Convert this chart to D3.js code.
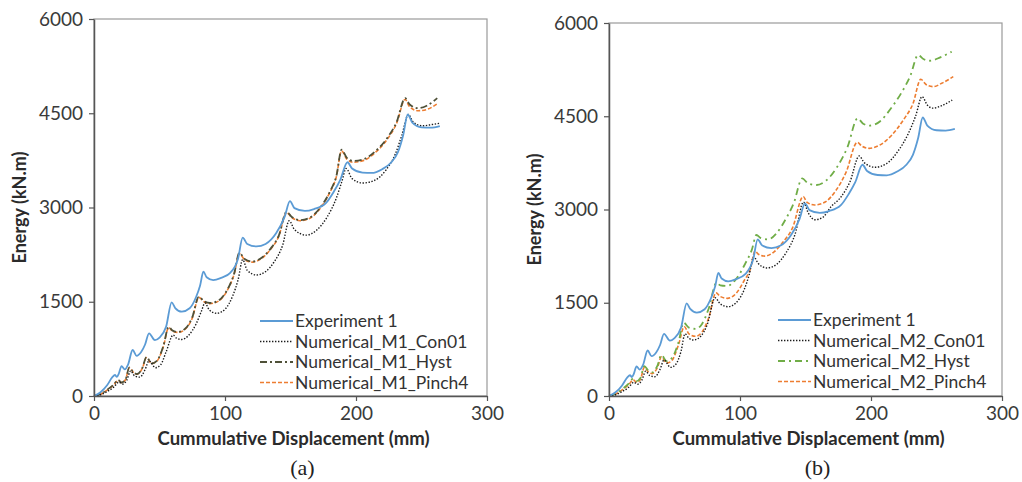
<!DOCTYPE html>
<html>
  <head>
    <meta charset="utf-8">
    <style>
    body { margin: 0; background: #fff; }
    text { font-family: Lato, "Open Sans", sans-serif; fill: #3a3a3a; }
    .tick text { font-size: 19px; }
    .axis-title { font-size: 18px; font-weight: bold; fill: #2b2b2b; }
    .legend text { font-size: 17.5px; fill: #333; }
    .caption { font-family: "Liberation Serif", "DejaVu Serif", serif; font-size: 22px; fill: #222; }
    .series { fill: none; }
    </style>
  </head>
  <body>
    <script src="https://d3js.org/d3.v7.min.js"></script>
    <script>

    // axis ticks
    var xTicks = [0, 100, 200, 300];
    var yTicks = [0, 1500, 3000, 4500, 6000];

    // Experiment 1 (same in both panels): [cumulative displacement mm, energy kN.m]
    var experiment1 = [[0,0],[5,60],[10,170],[14,300],[16,334],[17.5,305],[19,360],[21,477],[23.5,425],[26,500],
      [29.5,732],[32.5,640],[36,700],[39,820],[42,998],[46.5,890],[50,930],[55,1100],[59.3,1490],[62,1400],
      [67,1342],[73,1396],[78,1580],[81,1760],[83.5,1980],[86,1890],[91,1845],[97,1880],[104,1960],[110,2190],
      [113.5,2520],[117,2420],[124,2380],[131,2420],[139,2590],[145.5,2850],[149.6,3100],[153,2990],[161,2945],
      [168,2975],[177,3070],[183,3250],[188,3440],[193.5,3720],[197,3620],[205,3555],[212,3550],[220,3610],
      [227,3720],[232,3880],[236,4150],[239.5,4480],[243,4350],[250,4275],[257,4270],[264,4295]];

    // panel (a) numerical models
    var m1Con01 = [[0,0],[5,20],[10,70],[15,140],[19,220],[22,190],[25,250],[28,400],[31,320],[35,300],
      [39,420],[42,560],[47,450],[51,500],[55,700],[60.5,970],[63,920],[67,900],[72,960],[78,1150],
      [82,1350],[84.7,1480],[88,1370],[93.5,1316],[100,1380],[106,1600],[110,1850],[113.5,2170],[117,2000],
      [124,1926],[131,1980],[138,2150],[144,2400],[149,2790],[153,2650],[162,2560],[170,2640],[178,2850],
      [185,3150],[189,3400],[192.5,3620],[197,3460],[205,3390],[214,3430],[223,3600],[230,3850],[235,4150],
      [240,4480],[244,4350],[251,4300],[258,4320],[264,4340]];

    var m1Hyst = [[0,0],[5,30],[10,100],[15,180],[18.5,255],[21,215],[24,260],[27,456],[30,380],[33,350],
      [37,450],[40,620],[44,520],[48,560],[53,800],[57,1100],[60,1040],[64,1020],[70,1080],[75,1250],
      [80,1580],[84,1510],[88.5,1480],[95,1520],[102,1700],[107,1950],[111,2280],[115,2180],[121,2140],
      [128,2200],[135,2350],[141,2550],[147,2930],[151,2850],[157,2800],[164,2830],[172,2980],[180,3250],
      [185,3500],[189,3920],[193,3790],[198,3740],[206,3770],[215,3900],[224,4110],[231,4360],[237.5,4740],
      [241,4640],[247.5,4580],[254,4620],[262,4740]];

    var m1Pinch4 = [[0,0],[5,28],[10,95],[15,175],[18.5,250],[21,212],[24,258],[27,450],[30,378],[33,348],
      [37,445],[40,612],[44,515],[48,555],[53,790],[57,1090],[60,1030],[64,1012],[70,1070],[75,1240],
      [80,1570],[84,1500],[88.5,1470],[95,1510],[102,1690],[107,1940],[111,2265],[115,2170],[121,2130],
      [128,2190],[135,2340],[141,2540],[147,2920],[151,2840],[157,2790],[164,2820],[172,2970],[180,3240],
      [185,3490],[189,3900],[193,3770],[198,3720],[206,3750],[215,3880],[224,4090],[231,4340],[237.5,4720],
      [241,4600],[247.5,4540],[254,4560],[262,4650]];

    // panel (b) numerical models
    var m2Con01 = [[0,0],[5,20],[10,70],[15,140],[19,220],[22,190],[25,250],[28,400],[31,330],[35,310],
      [39,430],[42,580],[47,460],[51,510],[55,720],[58,1000],[61,930],[64.5,900],[70,960],[75,1150],
      [81,1580],[85,1480],[91,1436],[97,1500],[103,1700],[107,1950],[110.5,2240],[114,2130],[120.5,2060],
      [128,2120],[135,2300],[142,2600],[148.5,3120],[152,2950],[157,2835],[163,2870],[169.5,3045],[177,3200],
      [184,3450],[191,3860],[195,3750],[203,3680],[212,3740],[221,3950],[228,4200],[234,4500],[239,4815],
      [243,4680],[247,4630],[254,4670],[262,4760]];

    var m2Hyst = [[0,0],[5,35],[10,110],[15,200],[18.5,280],[21,240],[24,290],[27,480],[30,410],[33,380],
      [37,490],[40,660],[44,560],[48,610],[53,860],[57,1180],[61,1100],[66,1080],[71,1160],[76,1400],
      [82,1820],[85,1780],[90,1770],[97,1880],[104,2130],[109,2350],[112.5,2590],[116,2540],[121.6,2520],
      [128,2620],[135,2850],[141,3100],[147.5,3500],[152,3420],[158.5,3394],[166,3470],[174,3680],[182,4000],
      [189.8,4466],[194,4380],[199,4350],[207,4420],[215,4620],[223,4870],[230,5150],[236,5485],[240,5420],
      [245,5393],[252,5440],[261.6,5538]];

    var m2Pinch4 = [[0,0],[5,30],[10,100],[15,180],[18.5,260],[21,220],[24,270],[27,460],[30,390],[33,360],
      [37,460],[40,630],[44,530],[48,570],[53,820],[57.5,1115],[61,1000],[66,960],[71,1030],[76,1250],
      [81.7,1660],[85,1600],[90.5,1571],[97,1650],[103,1850],[108,2050],[111.5,2330],[114,2280],[119,2250],
      [126,2320],[133,2480],[140,2700],[148.3,3210],[151,3120],[157,3072],[165,3120],[173,3300],[181,3600],
      [189.5,4080],[193,4020],[198.5,3984],[207,4040],[216,4200],[225,4450],[232,4700],[238,5094],[242,5010],
      [247.5,4976],[254,5030],[262.8,5137]];

    var legendA = ["Experiment 1", "Numerical_M1_Con01", "Numerical_M1_Hyst", "Numerical_M1_Pinch4"];
    var legendB = ["Experiment 1", "Numerical_M2_Con01", "Numerical_M2_Hyst", "Numerical_M2_Pinch4"];

    var styles = [
      {stroke: "#5b9bd5", width: 1.8, dash: null},
      {stroke: "#1a1a1a", width: 1.4, dash: "1.4,1.6"},
      {stroke: "#4f5138", width: 1.8, dash: "7,3,2,3"},
      {stroke: "#ed7d31", width: 1.6, dash: "4,2"}
    ];
    var stylesB = styles.slice();
    stylesB[2] = {stroke: "#70ad47", width: 1.8, dash: "7,4,2,4"};

    var panels = [
      {left: 94, right: 487, top: 19, bottom: 396, series: [experiment1, m1Con01, m1Hyst, m1Pinch4],
       names: legendA, styles: styles, caption: "(a)", legendX: 260, legendY: 321},
      {left: 609, right: 1002, top: 23, bottom: 396, series: [experiment1, m2Con01, m2Hyst, m2Pinch4],
       names: legendB, styles: stylesB, caption: "(b)", legendX: 778, legendY: 320}
    ];

    var svg = d3.select("body").append("svg")
        .attr("width", 1022)
        .attr("height", 482);

    panels.forEach(drawPanel);

    function drawPanel(p) {
      var x = d3.scaleLinear().domain([0, 300]).range([p.left, p.right]);
      var y = d3.scaleLinear().domain([0, 6000]).range([p.bottom, p.top]);
      var g = svg.append("g");

      // plot frame
      g.append("rect")
          .attr("x", p.left).attr("y", p.top)
          .attr("width", p.right - p.left).attr("height", p.bottom - p.top)
          .attr("fill", "none").attr("stroke", "#9a9a9a").attr("stroke-width", 1.2);

      var line = d3.line()
          .x(function(d) { return x(d[0]); })
          .y(function(d) { return y(d[1]); })
          .curve(d3.curveMonotoneX);

      // draw experiment last so it stays on top like the original
      [3, 2, 1, 0].forEach(function(i) {
        var s = p.styles[i];
        g.append("path")
            .datum(p.series[i])
            .attr("class", "series")
            .attr("d", line)
            .attr("stroke", s.stroke)
            .attr("stroke-width", s.width)
            .attr("stroke-dasharray", s.dash);
      });

      var xAxis = g.append("g")
          .attr("transform", "translate(0," + p.bottom + ")")
          .call(d3.axisBottom(x).tickValues(xTicks).tickFormat(d3.format("d"))
            .tickSize(5).tickSizeOuter(0).tickPadding(6));
      var yAxis = g.append("g")
          .attr("transform", "translate(" + p.left + ",0)")
          .call(d3.axisLeft(y).tickValues(yTicks).tickFormat(d3.format("d"))
            .tickSize(5).tickSizeOuter(0).tickPadding(6));
      [xAxis, yAxis].forEach(function(a) {
        a.select(".domain").attr("stroke", "#555").attr("stroke-width", 1.5);
        a.selectAll(".tick line").attr("stroke", "#555").attr("stroke-width", 1.2);
        a.selectAll(".tick text").attr("fill", "#3a3a3a");
      });

      g.append("text")
          .attr("class", "axis-title")
          .attr("x", (p.left + p.right) / 2 + 3)
          .attr("y", 445)
          .attr("text-anchor", "middle")
          .attr("textLength", 272)
          .attr("lengthAdjust", "spacingAndGlyphs")
          .text("Cummulative Displacement (mm)");

      g.append("text")
          .attr("class", "axis-title")
          .attr("transform", "translate(" + (p.left - 68) + "," + ((p.top + p.bottom) / 2) + ") rotate(-90)")
          .attr("text-anchor", "middle")
          .text("Energy (kN.m)");

      g.append("text")
          .attr("class", "caption")
          .attr("x", (p.left + p.right) / 2 + 12)
          .attr("y", 475)
          .attr("text-anchor", "middle")
          .text(p.caption);

      // legend
      var lg = g.append("g").attr("class", "legend");
      p.names.forEach(function(name, i) {
        var s = p.styles[i];
        var cy = p.legendY + i * 20.5;
        lg.append("line")
            .attr("x1", p.legendX).attr("x2", p.legendX + 33)
            .attr("y1", cy).attr("y2", cy)
            .attr("stroke", s.stroke)
            .attr("stroke-width", s.width)
            .attr("stroke-dasharray", s.dash);
        lg.append("text")
            .attr("x", p.legendX + 35)
            .attr("y", cy + 6)
            .text(name);
      });
    }

    </script>
  </body>
</html>
